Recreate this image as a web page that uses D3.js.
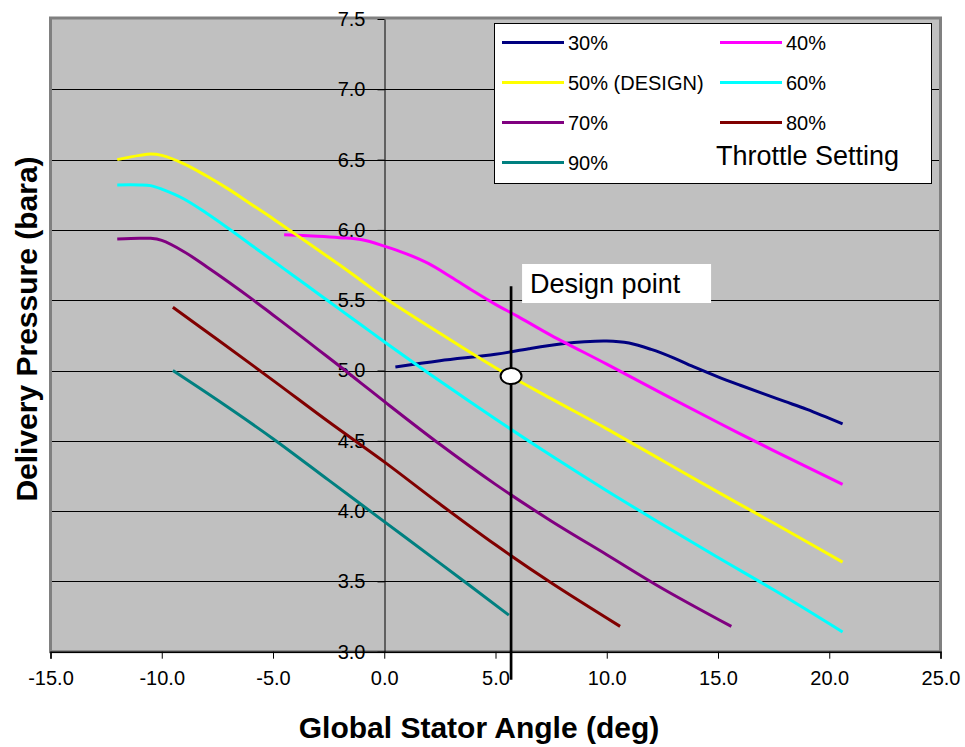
<!DOCTYPE html>
<html>
<head>
<meta charset="utf-8">
<script src="https://cdn.jsdelivr.net/npm/d3@7"></script>
<style>
  html, body { margin: 0; padding: 0; background: #ffffff; }
  svg { display: block; font-family: "Liberation Sans", Arial, sans-serif; }
</style>
</head>
<body>
<svg id="chart" width="965" height="747"></svg>
<script>
// Throttle settings (series names) and colours
const seriesNames = ["30%", "40%", "50% (DESIGN)", "60%", "70%", "80%", "90%"];
const seriesColors = ["#000080", "#ff00ff", "#ffff00", "#00ffff", "#800080", "#800000", "#008080"];

// Global stator angle (deg) and delivery pressure (bara) for each throttle setting
const angle30 = [0.5, 2.5, 5.0, 6.5, 8.0, 9.0, 10.0, 11.0, 12.0, 13.0, 14.0, 15.0, 16.0, 17.0, 18.0, 19.0, 20.6];
const press30 = [5.025, 5.07, 5.115, 5.155, 5.19, 5.205, 5.21, 5.195, 5.15, 5.09, 5.02, 4.955, 4.895, 4.837, 4.78, 4.723, 4.62];

const angle40 = [-4.5, -3.0, -2.0, -1.0, 0.0, 1.0, 2.0, 3.0, 4.0, 5.0, 6.0, 7.5, 10.0, 12.5, 15.0, 17.5, 20.6];
const press40 = [5.965, 5.955, 5.945, 5.93, 5.885, 5.83, 5.76, 5.665, 5.565, 5.47, 5.385, 5.25, 5.045, 4.835, 4.63, 4.43, 4.19];

const angle50 = [-12.0, -11.0, -10.5, -10.0, -9.0, -8.0, -7.0, -6.0, -5.0, -4.0, -3.0, -2.0, -1.0, 0.0, 2.5, 5.0, 7.5, 10.0, 12.5, 15.0, 17.5, 20.6];
const press50 = [6.50, 6.53, 6.54, 6.53, 6.47, 6.385, 6.29, 6.185, 6.08, 5.97, 5.86, 5.75, 5.635, 5.52, 5.265, 5.02, 4.80, 4.585, 4.36, 4.135, 3.915, 3.637];

const angle60 = [-12.0, -11.0, -10.5, -10.0, -9.0, -8.0, -7.0, -6.0, -5.0, -4.0, -3.0, -2.0, -1.0, 0.0, 2.5, 5.0, 7.5, 10.0, 12.5, 15.0, 17.5, 20.6];
const press60 = [6.32, 6.32, 6.315, 6.29, 6.22, 6.12, 6.01, 5.895, 5.78, 5.665, 5.55, 5.435, 5.32, 5.205, 4.925, 4.655, 4.395, 4.145, 3.905, 3.67, 3.44, 3.14];

const angle70 = [-12.0, -11.0, -10.5, -10.0, -9.0, -8.0, -7.0, -6.0, -5.0, -4.0, -3.0, -2.0, -1.0, 0.0, 2.5, 5.0, 7.5, 10.0, 12.5, 15.6];
const press70 = [5.935, 5.94, 5.94, 5.925, 5.845, 5.74, 5.63, 5.515, 5.395, 5.275, 5.152, 5.03, 4.905, 4.78, 4.475, 4.19, 3.93, 3.69, 3.45, 3.18];

const angle80 = [-9.5, -7.5, -5.0, -2.5, 0.0, 2.5, 5.0, 7.5, 10.6];
const press80 = [5.45, 5.22, 4.93, 4.635, 4.35, 4.05, 3.76, 3.49, 3.18];

const angle90 = [-9.5, -7.5, -5.0, -2.5, 0.0, 2.5, 5.6];
const press90 = [5.00, 4.79, 4.515, 4.22, 3.925, 3.63, 3.26];

// Design point marker and its vertical reference line
const designAngle = [5.7];
const designPressure = [4.96];
const designLineRange = [5.6, 2.8];
const designLabel = ["Design point"];

// Axis ticks
const xTicks = [-15, -10, -5, 0, 5, 10, 15, 20, 25];
const yTicks = [3.0, 3.5, 4.0, 4.5, 5.0, 5.5, 6.0, 6.5, 7.0, 7.5];

const angles = [angle30, angle40, angle50, angle60, angle70, angle80, angle90];
const pressures = [press30, press40, press50, press60, press70, press80, press90];
const series = seriesNames.map((name, i) => ({
  name, color: seriesColors[i],
  points: angles[i].map((a, j) => ({ x: a, y: pressures[i][j] }))
}));

const svg = d3.select("#chart");
const x = d3.scaleLinear().domain([-15, 25]).range([50.5, 940.5]);
const y = d3.scaleLinear().domain([3.0, 7.5]).range([651.7, 19]);
// one decimal, plain hyphen for negatives
const fmt = v => d3.format(".1f")(v).replace("\u2212", "-");

// Plot area background
svg.append("rect")
  .attr("x", x(-15)).attr("y", y(7.5) - 1)
  .attr("width", x(25) - x(-15)).attr("height", y(3.0) - y(7.5) + 1)
  .attr("fill", "#c0c0c0");

// Horizontal gridlines
svg.append("g").selectAll("line")
  .data(yTicks.filter(t => t > 3.0 && t < 7.5))
  .join("line")
  .attr("x1", x(-15)).attr("x2", x(25))
  .attr("y1", d => Math.round(y(d)) + 0.5).attr("y2", d => Math.round(y(d)) + 0.5)
  .attr("stroke", "#000").attr("stroke-width", 1);

// Plot area border
svg.append("rect")
  .attr("x", x(-15)).attr("y", y(7.5) - 1)
  .attr("width", x(25) - x(-15)).attr("height", y(3.0) - y(7.5) + 1)
  .attr("fill", "none").attr("stroke", "#808080").attr("stroke-width", 3);

// X axis along the bottom
const xAxis = d3.axisBottom(x).tickValues(xTicks).tickFormat(fmt).tickSize(7).tickPadding(12);
const gx = svg.append("g").attr("transform", `translate(0,${y(3.0)})`).call(xAxis);
gx.select(".domain").attr("stroke", "#000").attr("stroke-width", 1.5);
gx.selectAll(".tick line").attr("stroke", "#000");
gx.selectAll(".tick text").attr("font-size", 20).attr("fill", "#000")
  .attr("font-family", "Liberation Sans, Arial, sans-serif");

// Y axis crossing at zero angle
const yAxis = d3.axisLeft(y).tickValues(yTicks).tickFormat(fmt).tickSize(7).tickPadding(12).tickSizeOuter(0);
const gy = svg.append("g").attr("transform", `translate(${Math.round(x(0)) + 0.5},0)`).call(yAxis);
gy.select(".domain").attr("stroke", "#000").attr("stroke-width", 1);
gy.selectAll(".tick line").attr("stroke", "#000");
gy.selectAll(".tick text").attr("font-size", 20).attr("fill", "#000")
  .attr("font-family", "Liberation Sans, Arial, sans-serif");

// Series lines (smoothed)
const line = d3.line().x(d => x(d.x)).y(d => y(d.y)).curve(d3.curveCatmullRom.alpha(0.5));
svg.append("g").selectAll("path")
  .data(series)
  .join("path")
  .attr("d", d => line(d.points))
  .attr("fill", "none")
  .attr("stroke", d => d.color)
  .attr("stroke-width", 3)
  .attr("stroke-linejoin", "round");

// Design point label
const labelX = x(designAngle[0]) + 11;
svg.append("rect")
  .attr("x", labelX).attr("y", 264)
  .attr("width", 189).attr("height", 39)
  .attr("fill", "#fff");
svg.append("text")
  .attr("x", labelX + 8).attr("y", 293)
  .attr("font-size", 27).attr("fill", "#000")
  .text(designLabel[0]);

// Design point vertical line and marker
svg.append("line")
  .attr("x1", x(designAngle[0])).attr("x2", x(designAngle[0]))
  .attr("y1", y(designLineRange[0])).attr("y2", y(designLineRange[1]))
  .attr("stroke", "#000").attr("stroke-width", 2.7);
svg.append("ellipse")
  .attr("cx", x(designAngle[0])).attr("cy", y(designPressure[0]))
  .attr("rx", 10.5).attr("ry", 8)
  .attr("fill", "#fff").attr("stroke", "#000").attr("stroke-width", 2);

// Legend
const legend = svg.append("g");
legend.append("rect")
  .attr("x", 494.5).attr("y", 23.5).attr("width", 437).attr("height", 160)
  .attr("fill", "#fff").attr("stroke", "#000").attr("stroke-width", 1);
const colX = [502, 720];
const rowY = [42.5, 82.5, 122.5, 162.5];
const items = legend.selectAll("g.item").data(series).join("g").attr("class", "item")
  .attr("transform", (d, i) => `translate(${colX[i % 2]},${rowY[Math.floor(i / 2)]})`);
items.append("line").attr("x1", 0).attr("x2", 62).attr("y1", 0).attr("y2", 0)
  .attr("stroke", d => d.color).attr("stroke-width", 3);
items.append("text").attr("x", 66).attr("y", 7.5)
  .attr("font-size", 20).attr("fill", "#000").text(d => d.name);
legend.append("text")
  .attr("x", 716).attr("y", 165)
  .attr("font-size", 27).attr("fill", "#000")
  .text("Throttle Setting");

// Axis titles
svg.append("text")
  .attr("x", 479).attr("y", 738)
  .attr("text-anchor", "middle")
  .attr("font-size", 30).attr("font-weight", "bold").attr("fill", "#000")
  .text("Global Stator Angle (deg)");
svg.append("text")
  .attr("transform", "translate(37,329) rotate(-90)")
  .attr("text-anchor", "middle")
  .attr("font-size", 30).attr("font-weight", "bold").attr("fill", "#000")
  .text("Delivery Pressure (bara)");
</script>
</body>
</html>
